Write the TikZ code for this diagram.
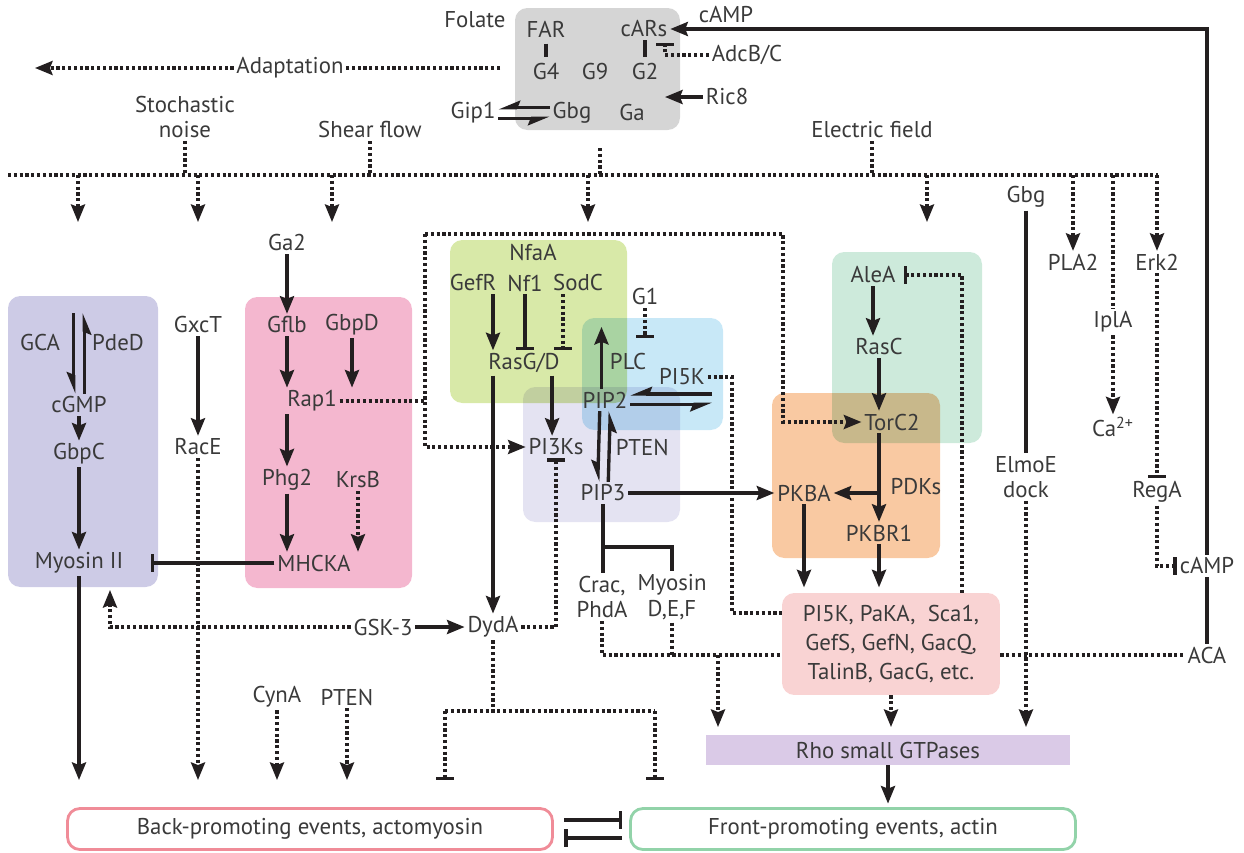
\documentclass[tikz,border=0pt]{standalone}
\usepackage{fontspec}
\setmainfont{PT Sans}
\usetikzlibrary{arrows.meta}

\definecolor{ink}{HTML}{231F20}
\definecolor{txt}{HTML}{3A3A3A}
\definecolor{boxgray}{HTML}{D5D5D5}
\definecolor{boxmyo}{HTML}{CDCBE6}
\definecolor{boxrap}{HTML}{F4B7CF}
\definecolor{boxras}{HTML}{D8E9A8}
\definecolor{boxplc}{HTML}{C8E8F7}
\definecolor{boxpik}{HTML}{E4E3F2}
\definecolor{boxtor}{HTML}{CDEADB}
\definecolor{boxpkb}{HTML}{F9C9A2}
\definecolor{boxeff}{HTML}{F9D3D3}
\definecolor{boxrho}{HTML}{DACAE7}
\definecolor{backline}{HTML}{F08C98}
\definecolor{frontline}{HTML}{92D3A9}

\begin{document}
\begin{tikzpicture}[
    x=0.02cm, y=-0.02cm,
    every node/.style={font=\fontsize{13}{14.5}\selectfont, text=txt, inner sep=1.5pt},
    lbl/.style={align=center},
    act/.style={-{Stealth[length=10pt,width=8pt,inset=1.5pt]}, line width=1.9pt, draw=ink},
    inh/.style={-{Bar[width=10pt,line width=1.9pt]}, line width=1.9pt, draw=ink},
    plain/.style={line width=1.9pt, draw=ink},
    dots/.style={line width=1.8pt, dash pattern=on 1.8pt off 1.5pt, draw=ink},
    halfr/.style={-{Stealth[length=10pt,width=8pt,inset=1.5pt,right]}, line width=1.9pt, draw=ink},
    grp/.style={rounded corners=7pt}
  ]
  \useasboundingbox (0,0) rectangle (1244,852);

  % coloured groups
  \begin{scope}[blend mode=multiply]
    \fill[boxgray, grp] (515,8) rectangle (680,130);
    \fill[boxmyo, grp] (8,296) rectangle (158,587);
    \fill[boxrap, grp] (245,297) rectangle (412,588);
    \fill[boxras, grp] (450,240) rectangle (627,403);
    \fill[boxplc, grp] (582,318) rectangle (723,430);
    \fill[boxpik, grp] (523,387) rectangle (680,522);
    \fill[boxtor, grp] (832,252) rectangle (982,443);
    \fill[boxpkb, grp] (772,393) rectangle (940,558);
  \end{scope}

  % receptors and G proteins
  \node (folate) at (475,20) {Folate};
  \node (far) at (546,29) {FAR};
  \node (cars) at (644,29) {cARs};
  \node (camptop) at (726,15) {cAMP};
  \node (adcbc) at (747,55) {AdcB/C};
  \node (g4) at (546,72) {G4};
  \node (g9) at (595,72) {G9};
  \node (g2) at (645,72) {G2};
  \node (ric8) at (727,97) {Ric8};
  \node (gip1) at (473,113) {Gip1};
  \node (gbg) at (572,113) {Gbg};
  \node (ga) at (632,113) {Ga};
  \node (adapt) at (290,68) {Adaptation};
  \node[lbl] (noise) at (185,117) {Stochastic\\noise};
  \node (shear) at (370,130) {Shear flow};
  \node (efield) at (872,130) {Electric field};

  % right column
  \node (gbgr) at (1026,197) {Gbg};
  \node (pla2) at (1073,262) {PLA2};
  \node (erk2) at (1157,262) {Erk2};
  \node (ipla) at (1113,322) {IplA};
  \node (ca) at (1113,427) {Ca\textsuperscript{2+}};
  \node[lbl] (elmo) at (1026,477) {ElmoE\\dock};
  \node (rega) at (1157,492) {RegA};
  \node (acamp) at (1207,566) {cAMP};
  \node (aca) at (1207,655) {ACA};

  % cGMP and Rap1 branches
  \node (gca) at (40,343) {GCA};
  \node (pded) at (118,343) {PdeD};
  \node (cgmp) at (79,405) {cGMP};
  \node (gbpc) at (79,454) {GbpC};
  \node (myosin) at (79,563) {Myosin II};
  \node (gxct) at (198,325) {GxcT};
  \node (race) at (198,447) {RacE};
  \node (ga2) at (287,243) {Ga2};
  \node (gflb) at (287,325) {Gflb};
  \node (gbpd) at (352,325) {GbpD};
  \node (rap1) at (312,401) {Rap1};
  \node (phg2) at (287,480) {Phg2};
  \node (krsb) at (358,480) {KrsB};
  \node (mhcka) at (314,563) {MHCKA};

  % Ras and lipids
  \node (nfaa) at (533,253) {NfaA};
  \node (gefr) at (473,283) {GefR};
  \node (nf1) at (525,283) {Nf1};
  \node (sodc) at (578,283) {SodC};
  \node (g1) at (645,297) {G1};
  \node (rasgd) at (524,363) {RasG/D};
  \node[anchor=west] (plc) at (607,362) {PLC};
  \node (pip2) at (605,400) {PIP2};
  \node (pi5k) at (682,377) {PI5K};
  \node (pi3ks) at (556,447) {PI3Ks};
  \node[anchor=west] (pten) at (613,448) {PTEN};
  \node (pip3) at (603,493) {PIP3};
  \node[lbl] (crac) at (602,597) {Crac,\\PhdA};
  \node[lbl] (myod) at (672,597) {Myosin\\D,E,F};

  % TorC2 and PKB
  \node (alea) at (873,275) {AleA};
  \node (rasc) at (879,347) {RasC};
  \node (torc2) at (892,422) {TorC2};
  \node (pkba) at (804,493) {PKBA};
  \node (pdks) at (916,487) {PDKs};
  \node (pkbr1) at (879,533) {PKBR1};

  % lower part
  \node (gsk3) at (383,627) {GSK-3};
  \node (dyda) at (493,627) {DydA};
  \node (cyna) at (277,697) {CynA};
  \node (ptenb) at (347,697) {PTEN};
  \node[fill=boxeff, rounded corners=7pt, minimum width=4.36cm, minimum height=2.04cm,
        align=center, font=\fontsize{13}{16.5}\selectfont] (pi5kbox) at (891,644)
        {PI5K, PaKA,\ \ Sca1,\\GefS, GefN, GacQ,\\TalinB, GacG, etc.};
  \node[fill=boxrho, minimum width=7.3cm, minimum height=0.6cm] (rho) at (888,750) {Rho small GTPases};
  \node[draw=backline, line width=1.6pt, rounded corners=7pt, minimum width=9.7cm,
        minimum height=0.82cm] (back) at (310,829) {Back-promoting events, actomyosin};
  \node[draw=frontline, line width=1.6pt, rounded corners=7pt, minimum width=8.9cm,
        minimum height=0.82cm] (front) at (853,829) {Front-promoting events, actin};

  % free ends
  \coordinate (grayW) at (500,68);
  \coordinate (graybot) at (600,148);
  \coordinate (adaptend) at (35,68);
  \coordinate (busL) at (8,175);
  \coordinate (busR) at (1158,175);
  \coordinate (loopTL) at (425,234);
  \coordinate (loopTR) at (783,234);
  \coordinate (adcend) at (665,43);
  \coordinate (ric8end) at (665,97);
  \coordinate (gcatop) at (79,313);
  \coordinate (backtop) at (0,780);
  \coordinate (rhotop) at (0,727);
  \coordinate (pi5kdrop) at (732,613);
  \coordinate (alealoop) at (962,275);
  \coordinate (myoup) at (110,590);
  \coordinate (dydaL) at (445,711);
  \coordinate (dydaR) at (655,711);
  \coordinate (pi5kend) at (712,397);
  \coordinate (effdrop) at (718,655);
  \coordinate (forkR) at (672,547);

  % top
  \draw[plain, shorten <=2pt, shorten >=2pt] (far.south) -- (g4.north);
  \draw[plain, shorten <=2pt] (g2.north) -- (g2.north |- cars.south);
  \draw[inh, dots] (adcbc.west) -| (adcend);
  \draw[act] (ric8.west) -- (ric8end);
  \draw[halfr] ([yshift=3pt]gbg.west) -- ([yshift=3pt]gip1.east);
  \draw[halfr] ([yshift=-3pt]gip1.east) -- ([yshift=-3pt]gbg.west);
  \draw[act] (acamp.north) |- (cars.east);
  \draw[dots] (grayW) -- (adapt.east);
  \draw[act, dots] (adapt.west) -- (adaptend);

  % cues
  \draw[dots] (busL) -- (busR);
  \draw[dots] (noise.south) -- (noise.south |- busL);
  \draw[dots] (shear.south) -- (shear.south |- busL);
  \draw[dots] (graybot) -- (graybot |- busL);
  \draw[dots] (efield.south) -- (efield.south |- busL);
  \foreach \x in {78,198,332,588,927}
    \draw[act, dots] (\x,175) -- (\x,222);
  \draw[act, dots] (pla2.north |- busL) -- (pla2.north);
  \draw[dots] (ipla.north |- busL) -- (ipla.north);
  \draw[act, dots] (erk2.north |- busR) -- (erk2.north);
  \draw[act, dots] (ipla.south) -- (ca.north);
  \draw[inh, dots] (erk2.south) -- (rega.north);
  \draw[inh, dots] (rega.south) |- (acamp.west);
  \draw[plain] (aca.north) -- (acamp.south);
  \draw[plain] (gbgr.south) -- (elmo.north);
  \draw[act, dots] (elmo.south) -- (elmo.south |- rhotop);

  % back side
  \draw[halfr] ([xshift=-3pt]gcatop) -- ([xshift=-3pt]cgmp.north);
  \draw[halfr] ([xshift=3pt]cgmp.north) -- ([xshift=3pt]gcatop);
  \draw[act] (cgmp.south) -- (gbpc.north);
  \draw[act] (gbpc.south) -- (myosin.north);
  \draw[act] (myosin.south) -- (myosin.south |- backtop);
  \draw[act] (gxct.south) -- (race.north);
  \draw[act, dots] (race.south) -- (race.south |- backtop);
  \draw[act] (ga2.south) -- (gflb.north);
  \draw[act] (gflb.south) -- (gflb.south |- rap1.north);
  \draw[act] (gbpd.south) -- (gbpd.south |- rap1.north);
  \draw[act] (rap1.south -| phg2) -- (phg2.north);
  \draw[act] (phg2.south) -- (phg2.south |- mhcka.north);
  \draw[act, dots] (krsb.south) -- (krsb.south |- mhcka.north);
  \draw[inh] (mhcka.west) -- ([xshift=0.5cm]myosin.east);
  \draw[dots] (rap1.east) -- (rap1 -| loopTL);
  \draw[act, dots] (gsk3.west) -| (myoup);
  \draw[act] (gsk3.east) -- (dyda.west);
  \draw[act, dots] (cyna.south) -- (cyna.south |- backtop);
  \draw[act, dots] (ptenb.south) -- (ptenb.south |- backtop);
  \draw[dots] (dyda.south) -- (dyda.south |- dydaL);
  \draw[dots] (dydaL) -- (dydaR);
  \draw[inh, dots] (dydaL) -- (dydaL |- backtop);
  \draw[inh, dots] (dydaR) -- (dydaR |- backtop);
  \draw[inh, dots] (dyda.east) -| (pi3ks.south);

  % Ras, PI3K, PIP2/PIP3
  \draw[act, dots] (loopTL) -- (loopTL |- pi3ks) -- (pi3ks.west);
  \draw[act, dots] (loopTL) -- (loopTR) -- (loopTR |- torc2) -- (torc2.west);
  \draw[act] (gefr.south -| dyda) -- (rasgd.north -| dyda);
  \draw[act] (rasgd.south -| dyda) -- (dyda.north);
  \draw[inh] (nf1.south) -- (nf1.south |- rasgd.north);
  \draw[inh, dots] ([xshift=-0.3cm]sodc.south) -- ([xshift=-0.3cm]sodc.south |- rasgd.north);
  \draw[inh, dots] (g1.south) -- ++(0,30);
  \draw[act] ([xshift=-2pt]pip2.north) -- ++(0,-62);
  \draw[halfr] ([yshift=3.5pt]pip2.east -| pi5kend) -- ([yshift=3.5pt]pip2.east);
  \draw[halfr] ([yshift=-2.5pt]pip2.east) -- ([yshift=-2.5pt]pip2.east -| pi5kend);
  \draw[act] ([xshift=-6pt]rasgd.south east) -- ([xshift=-6pt]rasgd.south east |- pi3ks.north);
  \draw[halfr] ([xshift=-3pt]pip2.south) -- ([xshift=-3pt]pip3.north);
  \draw[halfr] ([xshift=3pt]pip3.north) -- ([xshift=3pt]pip2.south);
  \draw[act] (pip3.east) -- (pkba.west);
  \draw[plain] (pip3.south) -- (pip3.south |- crac.north);
  \draw[plain] (pip3.south |- forkR) -- (forkR) -- (forkR |- myod.north);
  \draw[dots] (crac.south) |- (pi5kbox.west |- aca);
  \draw[dots] (myod.south) -- (myod.south |- aca);
  \draw[act, dots] (effdrop) -- (effdrop |- rhotop);
  \draw[dots] (pi5k.east) -| (pi5kdrop) -- (pi5kdrop -| pi5kbox.west);

  % TorC2 and PKB
  \draw[act] (alea.south) -- (alea.south |- rasc.north);
  \draw[act] (rasc.south) -- (rasc.south |- torc2.north);
  \draw[act] (torc2.south -| pkbr1) -- (pkbr1.north);
  \draw[act] (pkbr1 |- pkba) -- (pkba.east);
  \draw[act, shorten >=3pt] (pkba.south) -- (pkba.south |- pi5kbox.north);
  \draw[act, shorten >=3pt] (pkbr1.south) -- (pkbr1.south |- pi5kbox.north);
  \draw[inh, dots, shorten >=3pt] (alealoop |- pi5kbox.north) -- (alealoop) -- (alea.east);

  % front side
  \draw[dots] (pi5kbox.east |- aca) -- (aca.west);
  \draw[act, dots] (pi5kbox.south) -- (pi5kbox.south |- rhotop);
  \draw[act, shorten >=2pt] (rho.south) -- (rho.south |- front.north);
  \draw[inh, shorten <=6pt, shorten >=4pt] ([yshift=0.18cm]back.east) -- ([yshift=0.18cm]front.west);
  \draw[inh, shorten <=4pt, shorten >=6pt] ([yshift=-0.18cm]front.west) -- ([yshift=-0.18cm]back.east);
\end{tikzpicture}
\end{document}
